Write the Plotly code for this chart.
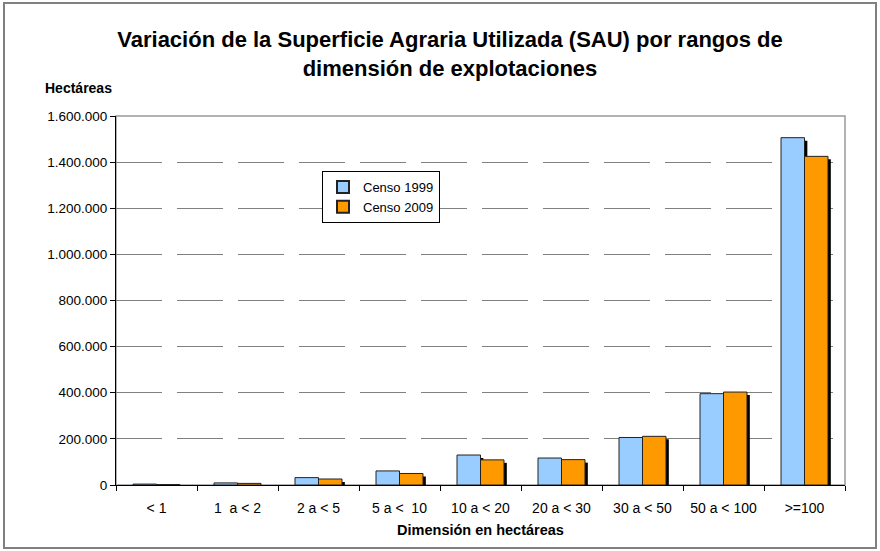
import plotly.graph_objects as go

categories = ["< 1", "1  a < 2", "2 a < 5", "5 a <  10", "10 a < 20",
              "20 a < 30", "30 a < 50", "50 a < 100", ">=100"]
censo_1999 = [4000, 9000, 32000, 61000, 130000, 117000, 206000, 396000, 1506000]
censo_2009 = [2000, 7000, 26000, 50000, 109000, 110000, 211000, 403000, 1425000]

BLUE = "#99CCFF"
ORANGE = "#FF9900"
W = 0.29
SH = 0.035      # shadow x shift (category units)
SHB = -13000    # shadow drop (axis units)

fig = go.Figure()
fig.add_trace(go.Bar(x=categories, y=censo_1999, base=SHB, offset=-W + SH, width=W,
                     marker=dict(color="black", line=dict(width=0)),
                     showlegend=False, hoverinfo="skip"))
fig.add_trace(go.Bar(x=categories, y=censo_1999, name="Censo 1999", offset=-W, width=W,
                     marker=dict(color=BLUE, line=dict(color="#222", width=1))))
fig.add_trace(go.Bar(x=categories, y=censo_2009, base=SHB, offset=SH, width=W,
                     marker=dict(color="black", line=dict(width=0)),
                     showlegend=False, hoverinfo="skip"))
fig.add_trace(go.Bar(x=categories, y=censo_2009, name="Censo 2009", offset=0, width=W,
                     marker=dict(color=ORANGE, line=dict(color="#222", width=1))))

L, R, T, B = 116, 35, 116, 66
PW, PH = 880 - L - R, 551 - T - B

def px_x(p):
    return (p - L) / PW

def px_y(p):
    return (551 - B - p) / PH

fig.update_layout(
    width=880, height=551,
    margin=dict(l=L, r=R, t=T, b=B),
    barmode="overlay",
    separators=",.",
    paper_bgcolor="white",
    plot_bgcolor="white",
    font=dict(family="Liberation Sans, Arial, sans-serif", color="black", size=12),
    title=dict(
        text="<b>Variación de la Superficie Agraria Utilizada (SAU) por rangos de<br>dimensión de explotaciones</b>",
        x=450 / 880, xanchor="center", y=1 - 47 / 551, yanchor="top",
        font=dict(size=22, color="black"),
    ),
    legend=dict(
        x=px_x(322), y=px_y(171), xanchor="left", yanchor="top",
        bgcolor="white", bordercolor="black", borderwidth=1,
        font=dict(size=13), traceorder="normal",
        itemsizing="constant", tracegroupgap=0,
    ),
    xaxis=dict(
        type="category", showgrid=False, showline=True, linecolor="black", linewidth=1,
        ticks="outside", ticklen=5, tickcolor="black", tickson="boundaries",
        tickfont=dict(size=14), ticklabelstandoff=10,
        title=dict(text="<b>Dimensión en hectáreas</b>", font=dict(size=14.5), standoff=10),
        range=[-0.5, 8.5],
    ),
    yaxis=dict(
        range=[0, 1600000], dtick=200000, tickformat=",d",
        showline=True, linecolor="black", linewidth=1,
        ticks="outside", ticklen=5, tickcolor="black",
        showgrid=True, gridcolor="#808080", gridwidth=1, griddash="46px,15px",
        tickfont=dict(size=13.5), zeroline=False,
    ),
    shapes=[
        dict(type="rect", xref="paper", yref="paper", x0=0, x1=1, y0=0, y1=1,
             line=dict(color="#999999", width=1.5), layer="below"),
        dict(type="rect", xref="paper", yref="paper",
             x0=px_x(4), x1=px_x(876), y0=px_y(548), y1=px_y(3),
             line=dict(color="#808080", width=2), layer="below"),
    ],
    annotations=[
        dict(text="<b>Hectáreas</b>", xref="paper", yref="paper",
             x=px_x(43), y=px_y(88), xanchor="left", yanchor="middle",
             showarrow=False, font=dict(size=14)),
    ],
)

fig.write_html("out.html", config={"displayModeBar": False},
               post_script="document.body.style.margin='0';")
